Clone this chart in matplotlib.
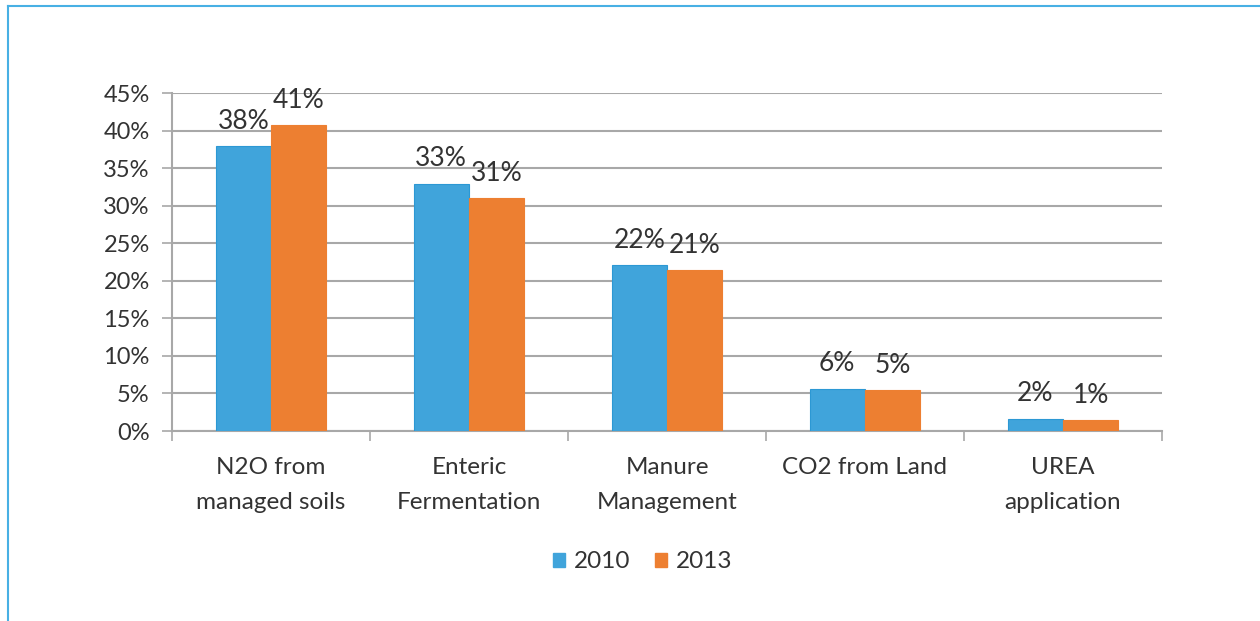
import matplotlib.pyplot as plt
import numpy as np
from matplotlib.lines import Line2D
from matplotlib.patches import Patch

categories = ['N2O from\nmanaged soils', 'Enteric\nFermentation', 'Manure\nManagement',
              'CO2 from Land', 'UREA\napplication']
years = ['2010', '2013']
share_2010 = [37.9, 32.9, 22.1, 5.6, 1.6]
share_2013 = [40.7, 31.0, 21.4, 5.45, 1.46]
yticks = [0, 5, 10, 15, 20, 25, 30, 35, 40, 45]

blue = '#40A4DB'
orange = '#ED7F31'
grid_c = '#A8A8A8'
text_c = '#333333'

plt.rcParams['font.family'] = ['Lato', 'DejaVu Sans']

fig = plt.figure(figsize=(12.6, 6.21), dpi=100)
ax = fig.add_axes([172 / 1260, 1 - 431 / 621, 990 / 1260, 338 / 621])

x = np.arange(len(categories))
w = 0.28
b1 = ax.bar(x - w / 2, share_2010, w, color=blue, edgecolor='#2C98D4', linewidth=0.8, zorder=3)
b2 = ax.bar(x + w / 2, share_2013, w, color=orange, edgecolor=orange, linewidth=0.8, zorder=3)

for bars, vals in [(b1, share_2010), (b2, share_2013)]:
    for r, v in zip(bars, vals):
        ax.annotate('{:.0f}%'.format(v), (r.get_x() + r.get_width() / 2, v),
                    xytext=(0, 9), textcoords='offset points', ha='center', va='bottom',
                    fontsize=19, color=text_c, zorder=4)

ax.set_ylim(0, 45)
ax.set_xlim(-0.5, len(categories) - 0.5)
ax.set_yticks(yticks)
ax.set_yticklabels(['{}%'.format(t) for t in yticks], fontsize=17, color=text_c)
ax.yaxis.grid(True, color=grid_c, linewidth=1.5, zorder=0)
ax.tick_params(axis='y', length=7, width=1.2, color=grid_c, pad=9)

ax.set_xticks(x)
ax.set_xticklabels(categories, fontsize=17.5, color=text_c, linespacing=1.8)
ax.set_xticks(np.arange(-0.5, len(categories)), minor=True)
ax.tick_params(axis='x', which='major', length=0, pad=19)
ax.tick_params(axis='x', which='minor', length=7, width=1.2, color=grid_c)

for s in ['top', 'right']:
    ax.spines[s].set_visible(False)
for s in ['left', 'bottom']:
    ax.spines[s].set_color(grid_c)
    ax.spines[s].set_linewidth(1.5)

handles = [Patch(facecolor=blue, edgecolor=blue), Patch(facecolor=orange, edgecolor=orange)]
fig.legend(handles, years, loc='center', bbox_to_anchor=(0.51, 1 - 562 / 621), ncol=2,
           frameon=False, fontsize=17.5, handlelength=0.5, handleheight=0.5,
           handletextpad=0.35, columnspacing=1.0, labelcolor=text_c)

# light blue frame on the left and top edges
fig.add_artist(Line2D([8 / 1260, 8 / 1260], [0, 1 - 6 / 621], color='#48B0E4', linewidth=1.5))
fig.add_artist(Line2D([8 / 1260, 1], [1 - 6 / 621, 1 - 6 / 621], color='#48B0E4', linewidth=1.5))

fig.savefig('out.png', dpi=100)
